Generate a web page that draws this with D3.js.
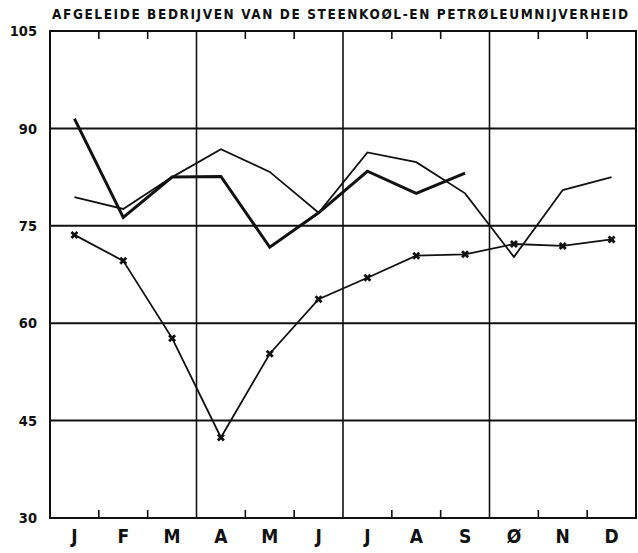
<!DOCTYPE html>
<html>
<head>
<meta charset="utf-8">
<script src="https://cdn.jsdelivr.net/npm/d3@7"></script>
<style>
  html, body { margin: 0; padding: 0; background: #fff; }
  svg { display: block; }
</style>
</head>
<body>
<svg id="chart" width="638" height="553"></svg>
<script>
// Monthly indices, derived industries of coal and petroleum
const title = "AFGELEIDE BEDRIJVEN VAN DE STEENKOØL-EN PETRØLEUMNIJVERHEID";
const months = ["J", "F", "M", "A", "M", "J", "J", "A", "S", "Ø", "N", "D"];
const yTicks = [30, 45, 60, 75, 90, 105];

// thick line, January to September
const seriesThick = [91.5, 76.3, 82.5, 82.6, 71.7, 77.0, 83.4, 80.0, 83.1];
// thin line, full year
const seriesThin = [79.4, 77.6, 82.5, 86.8, 83.3, 77.0, 86.3, 84.8, 80.0, 70.2, 80.5, 82.5];
// line with cross markers, full year
const seriesCross = [73.6, 69.6, 57.7, 42.4, 55.3, 63.7, 67.0, 70.4, 70.6, 72.2, 71.9, 72.9];

const svg = d3.select("#chart");
const plotL = 50, plotR = 636, plotT = 31, plotB = 518;
const ink = "#111";

const x = d3.scaleBand().domain(d3.range(months.length)).range([plotL, plotR]).padding(0);
const y = d3.scaleLinear().domain([30, 105]).range([plotB, plotT]);
const cx = i => x(i) + x.bandwidth() / 2;

// horizontal grid lines
svg.append("g").selectAll("line")
  .data(yTicks.filter(v => v > 30 && v < 105))
  .join("line")
  .attr("x1", plotL).attr("x2", plotR)
  .attr("y1", d => y(d)).attr("y2", d => y(d))
  .attr("stroke", ink).attr("stroke-width", 2);

// quarter separators
svg.append("g").selectAll("line")
  .data([3, 6, 9])
  .join("line")
  .attr("x1", d => x(d)).attr("x2", d => x(d))
  .attr("y1", plotT).attr("y2", plotB)
  .attr("stroke", ink).attr("stroke-width", 1.6);

// month ticks on top and bottom edges
const minor = d3.range(1, 12).filter(i => i % 3 !== 0);
svg.append("g").selectAll("line")
  .data(minor)
  .join("line")
  .attr("x1", d => x(d)).attr("x2", d => x(d))
  .attr("y1", plotT).attr("y2", plotT + 8)
  .attr("stroke", ink).attr("stroke-width", 1.6);
svg.append("g").selectAll("line")
  .data(minor)
  .join("line")
  .attr("x1", d => x(d)).attr("x2", d => x(d))
  .attr("y1", plotB).attr("y2", plotB - 8)
  .attr("stroke", ink).attr("stroke-width", 1.6);

// frame
svg.append("rect")
  .attr("x", plotL).attr("y", plotT)
  .attr("width", plotR - plotL).attr("height", plotB - plotT)
  .attr("fill", "none").attr("stroke", ink).attr("stroke-width", 2);

// y axis labels
const yAxis = svg.append("g")
  .attr("transform", `translate(${plotL},0)`)
  .call(d3.axisLeft(y).tickValues(yTicks).tickSize(0).tickPadding(13).tickFormat(d3.format("d")));
yAxis.select(".domain").remove();
yAxis.selectAll("text")
  .attr("font-family", "'DejaVu Sans Condensed', 'DejaVu Sans', sans-serif")
  .attr("font-weight", "bold")
  .attr("font-size", 14.5)
  .attr("fill", ink);

// month labels
const xAxis = svg.append("g")
  .attr("transform", `translate(0,${plotB})`)
  .call(d3.axisBottom(x).tickSize(0).tickPadding(12).tickFormat(i => months[i]));
xAxis.select(".domain").remove();
xAxis.selectAll("text")
  .attr("font-family", "'DejaVu Sans Condensed', 'DejaVu Sans', sans-serif")
  .attr("font-weight", "bold")
  .attr("font-size", 19)
  .attr("fill", ink);

// title
svg.append("text")
  .attr("x", 52).attr("y", 19)
  .attr("textLength", 576)
  .attr("lengthAdjust", "spacing")
  .attr("font-family", "'DejaVu Sans Condensed', 'DejaVu Sans', sans-serif")
  .attr("font-weight", "bold")
  .attr("font-size", 13.5)
  .attr("fill", ink)
  .text(title);

const line = d3.line().x((d, i) => cx(i)).y(d => y(d));

svg.append("path")
  .datum(seriesThin)
  .attr("d", line)
  .attr("fill", "none").attr("stroke", ink)
  .attr("stroke-width", 1.8).attr("stroke-linejoin", "miter");

svg.append("path")
  .datum(seriesThick)
  .attr("d", line)
  .attr("fill", "none").attr("stroke", ink)
  .attr("stroke-width", 3).attr("stroke-linejoin", "miter");

svg.append("path")
  .datum(seriesCross)
  .attr("d", line)
  .attr("fill", "none").attr("stroke", ink)
  .attr("stroke-width", 1.8);

// cross markers
svg.append("g").selectAll("path")
  .data(seriesCross)
  .join("path")
  .attr("transform", (d, i) => `translate(${cx(i)},${y(d)}) rotate(45)`)
  .attr("d", d3.symbol().type(d3.symbolCross).size(40))
  .attr("fill", ink);
</script>
</body>
</html>
